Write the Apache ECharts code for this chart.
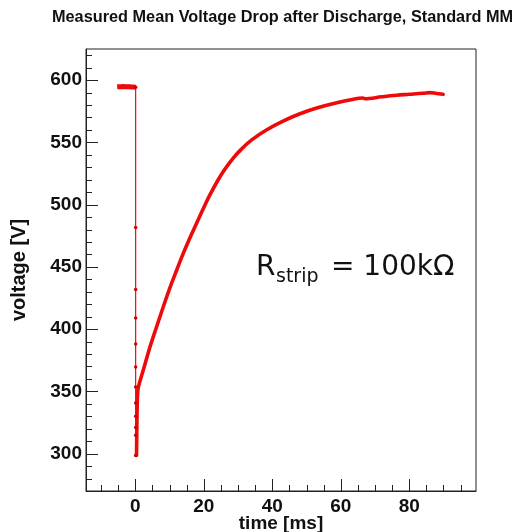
<!DOCTYPE html>
<html>
<head>
<meta charset="utf-8">
<script src="https://cdn.jsdelivr.net/npm/echarts@6/dist/echarts.min.js"></script>
<style>html,body{margin:0;padding:0;background:#fff;}#c{width:519px;height:532px;}</style>
</head>
<body>
<div id="c"></div>
<script>
// ---- data ----
const flatTime = [-5.3, -5.0, -4.7, -4.4, -4.1, -3.8, -3.5, -3.2, -2.9, -2.6, -2.3, -2.0, -1.7, -1.4, -1.1, -0.8, -0.5, -0.2, 0.1];
const flatVolt = [594.6, 594.5, 594.7, 594.4, 594.6, 594.5, 594.8, 594.4, 594.6, 594.5, 594.7, 594.3, 594.6, 594.5, 594.4, 594.6, 594.5, 594.4, 594.3];
const dropTime = [0.1, 0.1, 0.1, 0.1, 0.1, 0.1, 0.1, 0.1, 0.1, 0.1, 0.1, 0.1];
const dropVolt = [594.3, 481.6, 431.8, 409.0, 388.0, 369.6, 353.5, 340.7, 330.0, 321.1, 314.7, 298.6];
const recTime = [0.35, 0.45, 0.55, 0.7, 0.9, 2.5, 4.3, 6.2, 8.2, 10.1, 12.1, 14.0, 16.0, 18.0, 19.8, 21.6, 24.0, 26.0, 28.6, 31.0, 34.0, 38.4, 43.0, 48.1, 53.0, 59.8, 63.0, 66.3, 67.4, 68.5, 72.0, 76.3, 80.0, 84.0, 86.0, 88.0, 89.9];
const recVolt = [298.6, 320.0, 338.0, 349.0, 353.5, 368.7, 385.8, 401.7, 418.2, 433.2, 447.5, 460.8, 473.6, 485.6, 496.5, 506.8, 519.0, 527.8, 537.4, 544.6, 552.0, 560.1, 566.9, 573.0, 577.6, 582.4, 584.3, 585.7, 585.0, 585.3, 586.6, 587.9, 588.6, 589.4, 590.0, 589.3, 588.6];
const xMajorTicks = [0, 20, 40, 60, 80];
const xMinorTicks = [-10, -5, 5, 10, 15, 25, 30, 35, 45, 50, 55, 65, 70, 75, 85, 90, 95];
const yMajorTicks = [300, 350, 400, 450, 500, 550, 600];
const yMinorTicks = [280, 290, 310, 320, 330, 340, 360, 370, 380, 390, 410, 420, 430, 440, 460, 470, 480, 490, 510, 520, 530, 540, 560, 570, 580, 590, 610, 620];
const xRange = [-14.4, 99.5];
const yRange = [270, 625];

const zip = (a, b) => a.map((v, i) => [v, b[i]]);
const RED = '#ee0a0a';
const FONT = '"Liberation Sans", Arial, sans-serif';
const AXIS = {color: '#222', width: 1};

// axis tick marks drawn through the axis scales (value -> pixel by api.coord)
function xTickSeries(values, len) {
  return {
    type: 'custom', silent: true, clip: false, z: 5,
    data: values.map(v => [v, yRange[0]]),
    renderItem: (params, api) => {
      const p = api.coord([api.value(0), yRange[0]]);
      const x = Math.round(p[0]) + 0.5;
      return {type: 'line', shape: {x1: x, y1: p[1], x2: x, y2: p[1] - len}, style: {stroke: '#222', lineWidth: 1}};
    }
  };
}
function yTickSeries(values, len) {
  return {
    type: 'custom', silent: true, clip: false, z: 5,
    data: values.map(v => [xRange[0], v]),
    renderItem: (params, api) => {
      const p = api.coord([xRange[0], api.value(1)]);
      const y = Math.round(p[1]) + 0.5;
      return {type: 'line', shape: {x1: p[0], y1: y, x2: p[0] + len, y2: y}, style: {stroke: '#222', lineWidth: 1}};
    }
  };
}

const chart = echarts.init(document.getElementById('c'), null, {renderer: 'canvas'});
chart.setOption({
  animation: false,
  backgroundColor: '#fff',
  title: {
    text: 'Measured Mean Voltage Drop after Discharge, Standard MM',
    left: 47, top: 5,
    textStyle: {fontFamily: FONT, fontWeight: 'bold', fontSize: 16.3, color: '#111'}
  },
  grid: {left: 86, right: 43, top: 49, bottom: 41, show: true, borderColor: '#222', borderWidth: 1,
         backgroundColor: 'transparent', containLabel: false, outerBoundsMode: 'none'},
  xAxis: {
    type: 'value', min: xRange[0], max: xRange[1], position: 'bottom',
    name: 'time [ms]', nameLocation: 'middle', nameGap: 23, nameMoveOverlap: false,
    nameTextStyle: {fontFamily: FONT, fontWeight: 'bold', fontSize: 19, color: '#111'},
    axisLine: {show: true, onZero: false, lineStyle: AXIS},
    axisTick: {show: false},
    axisLabel: {show: true, customValues: xMajorTicks, margin: 6, fontFamily: FONT, fontWeight: 'bold', fontSize: 19, color: '#111'},
    splitLine: {show: false}
  },
  yAxis: {
    type: 'value', min: yRange[0], max: yRange[1], position: 'left',
    name: 'voltage [V]', nameLocation: 'middle', nameGap: 57, nameRotate: 90,
    nameTextStyle: {fontFamily: FONT, fontWeight: 'bold', fontSize: 20, color: '#111'},
    axisLine: {show: true, onZero: false, lineStyle: AXIS},
    axisTick: {show: false},
    axisLabel: {show: true, customValues: yMajorTicks, margin: 4, fontFamily: FONT, fontWeight: 'bold', fontSize: 19, color: '#111'},
    splitLine: {show: false}
  },
  series: [
    xTickSeries(xMajorTicks, 12),
    xTickSeries(xMinorTicks, 6),
    yTickSeries(yMajorTicks, 12),
    yTickSeries(yMinorTicks, 6),
  {
    type: 'line',
    data: zip(flatTime, flatVolt), showSymbol: false, symbol: 'none',
    lineStyle: {color: RED, width: 5}
  }, {
    type: 'line',
    data: zip(dropTime, dropVolt), symbol: 'circle', symbolSize: 3.5, showSymbol: true,
    itemStyle: {color: '#d00000'},
    lineStyle: {color: RED, width: 1.2}
  }, {
    type: 'line',
    data: zip(recTime, recVolt), symbol: 'none', smooth: 0.4,
    lineStyle: {color: RED, width: 3.6, join: 'round', cap: 'round'}
  }],
  graphic: [
    {type: 'text', left: 256, top: 254, style: {text: 'R', font: '28px "DejaVu Sans", sans-serif', fill: '#111'}},
    {type: 'text', left: 276, top: 268, style: {text: 'strip', font: '19px "DejaVu Sans", sans-serif', fill: '#111'}},
    {type: 'text', left: 331, top: 254, style: {text: '= 100kΩ', font: '28px "DejaVu Sans", sans-serif', fill: '#111'}}
  ]
});
</script>
</body>
</html>
